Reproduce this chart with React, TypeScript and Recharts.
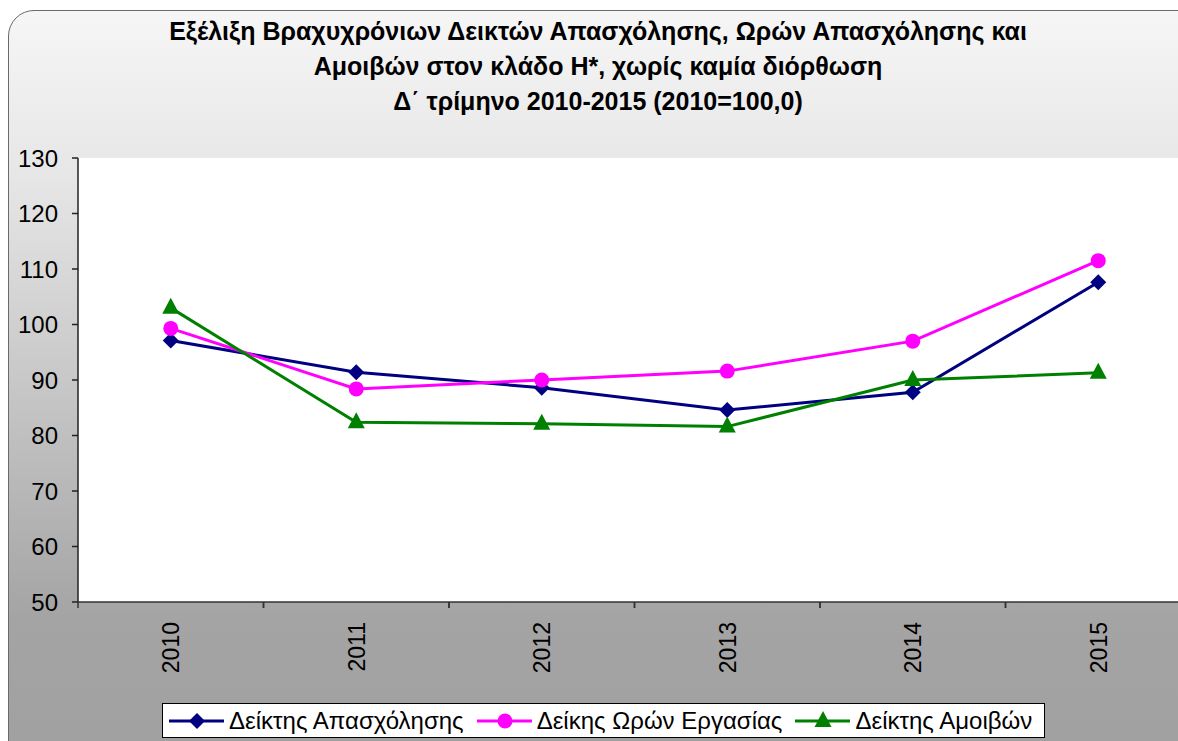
import { LineChart, Line, XAxis, YAxis, CartesianGrid } from 'recharts';

const years = ['2010', '2011', '2012', '2013', '2014', '2015'];
const apasxolisi = [97.1, 91.4, 88.6, 84.6, 87.8, 107.6];
const oresErgasias = [99.3, 88.4, 90.0, 91.6, 97.0, 111.5];
const amoives = [103.0, 82.4, 82.1, 81.6, 90.0, 91.3];
const yTicks = [50, 60, 70, 80, 90, 100, 110, 120, 130];

const seriesNames = ['Δείκτης Απασχόλησης', 'Δείκης Ωρών Εργασίας', 'Δείκτης Αμοιβών'];
const seriesColors = ['#000080', '#ff00ff', '#008000'];

const titleLines = [
  'Εξέλιξη Βραχυχρόνιων Δεικτών Απασχόλησης, Ωρών Απασχόλησης και',
  'Αμοιβών στον κλάδο Η*, χωρίς καμία διόρθωση',
  'Δ΄ τρίμηνο 2010-2015 (2010=100,0)',
];

const data = years.map((y, i) => ({
  year: y,
  apasx: apasxolisi[i],
  ores: oresErgasias[i],
  amoiv: amoives[i],
}));

const FONT = '"Liberation Sans", Arial, sans-serif';
const HALF_BAND = 92.75;

function Marker({ kind, cx, cy, color }: { kind: number; cx: number; cy: number; color: string }) {
  if (kind === 0) {
    const r = 8;
    return <polygon points={`${cx},${cy - r} ${cx + r},${cy} ${cx},${cy + r} ${cx - r},${cy}`} fill={color} />;
  }
  if (kind === 1) return <circle cx={cx} cy={cy} r={7.5} fill={color} />;
  return <polygon points={`${cx},${cy - 10} ${cx + 8.5},${cy + 6} ${cx - 8.5},${cy + 6}`} fill={color} />;
}

const dotFor = (kind: number) => (props: any) => (
  <Marker key={`${kind}-${props.index}`} kind={kind} cx={props.cx} cy={props.cy} color={seriesColors[kind]} />
);

// label rotated, plus a small tick mark on the category boundary (Excel style)
function YearTick(props: any) {
  const { x, y, payload } = props;
  const axisY = y - 8;
  const ty = y + 12;
  return (
    <g>
      <line x1={x - HALF_BAND} y1={axisY} x2={x - HALF_BAND} y2={axisY + 6} stroke="#333" strokeWidth={1.5} />
      <line x1={x + HALF_BAND} y1={axisY} x2={x + HALF_BAND} y2={axisY + 6} stroke="#333" strokeWidth={1.5} />
      <text
        x={x}
        y={ty}
        transform={`rotate(-90, ${x}, ${ty})`}
        textAnchor="end"
        dy="0.36em"
        fontSize={23}
        fontFamily={FONT}
        fill="#000"
      >
        {payload.value}
      </text>
    </g>
  );
}

export default function App() {
  return (
    <div style={{ position: 'absolute', left: 0, top: 0, width: 1178, height: 741, overflow: 'hidden', background: '#fff' }}>
      <div
        style={{
          position: 'absolute',
          left: 8,
          top: 10,
          width: 1200,
          height: 760,
          border: '1.5px solid #6a6a6a',
          borderRadius: 26,
          background: 'linear-gradient(to bottom, #f6f6f6 0%, #e6e6e6 22%, #a4a4a4 80%, #a0a0a0 100%)',
        }}
      />
      <div
        style={{
          position: 'absolute',
          left: 0,
          top: 14,
          width: 1196,
          textAlign: 'center',
          fontFamily: FONT,
          fontWeight: 'bold',
          fontSize: 25,
          lineHeight: '35px',
          color: '#000',
        }}
      >
        {titleLines.map((t) => (
          <div key={t}>{t}</div>
        ))}
      </div>
      <div style={{ position: 'absolute', left: 0, top: 0 }}>
        <LineChart width={1200} height={741} data={data} margin={{ top: 158, right: 9, left: 0, bottom: 0 }}>
          <CartesianGrid xAxisId="cat" horizontal={false} vertical={false} fill="#ffffff" />
          <XAxis
            xAxisId="top"
            orientation="top"
            height={0}
            dataKey="year"
            tick={false}
            tickLine={false}
            axisLine={{ stroke: '#7a7a7a', strokeWidth: 3 }}
          />
          <XAxis
            xAxisId="cat"
            dataKey="year"
            height={139}
            padding={{ left: HALF_BAND, right: HALF_BAND }}
            axisLine={{ stroke: '#333', strokeWidth: 1.5 }}
            tickLine={false}
            interval={0}
            tick={<YearTick />}
          />
          <YAxis
            domain={[50, 130]}
            ticks={yTicks}
            width={78}
            tickSize={6}
            tickMargin={14}
            axisLine={{ stroke: '#222', strokeWidth: 1.5 }}
            tickLine={{ stroke: '#222', strokeWidth: 1.5 }}
            tick={{ fill: '#000', fontSize: 24, fontFamily: FONT }}
          />
          <Line xAxisId="cat" dataKey="apasx" stroke={seriesColors[0]} strokeWidth={3} dot={dotFor(0)} isAnimationActive={false} />
          <Line xAxisId="cat" dataKey="ores" stroke={seriesColors[1]} strokeWidth={3} dot={dotFor(1)} isAnimationActive={false} />
          <Line xAxisId="cat" dataKey="amoiv" stroke={seriesColors[2]} strokeWidth={3} dot={dotFor(2)} isAnimationActive={false} />
        </LineChart>
      </div>
      <div
        style={{
          position: 'absolute',
          left: 162,
          top: 703,
          width: 881,
          height: 33,
          border: '1px solid #000',
          background: '#fff',
          display: 'flex',
          alignItems: 'center',
          fontFamily: FONT,
          fontSize: 24,
          color: '#000',
          whiteSpace: 'nowrap',
        }}
      >
        {seriesNames.map((name, i) => (
          <div key={name} style={{ display: 'flex', alignItems: 'center', marginLeft: i === 0 ? 6 : 13 }}>
            <svg width={55} height={24}>
              <line x1={0} y1={12} x2={55} y2={12} stroke={seriesColors[i]} strokeWidth={3} />
              <Marker kind={i} cx={28} cy={12} color={seriesColors[i]} />
            </svg>
            <span style={{ marginLeft: 5 }}>{name}</span>
          </div>
        ))}
      </div>
    </div>
  );
}
